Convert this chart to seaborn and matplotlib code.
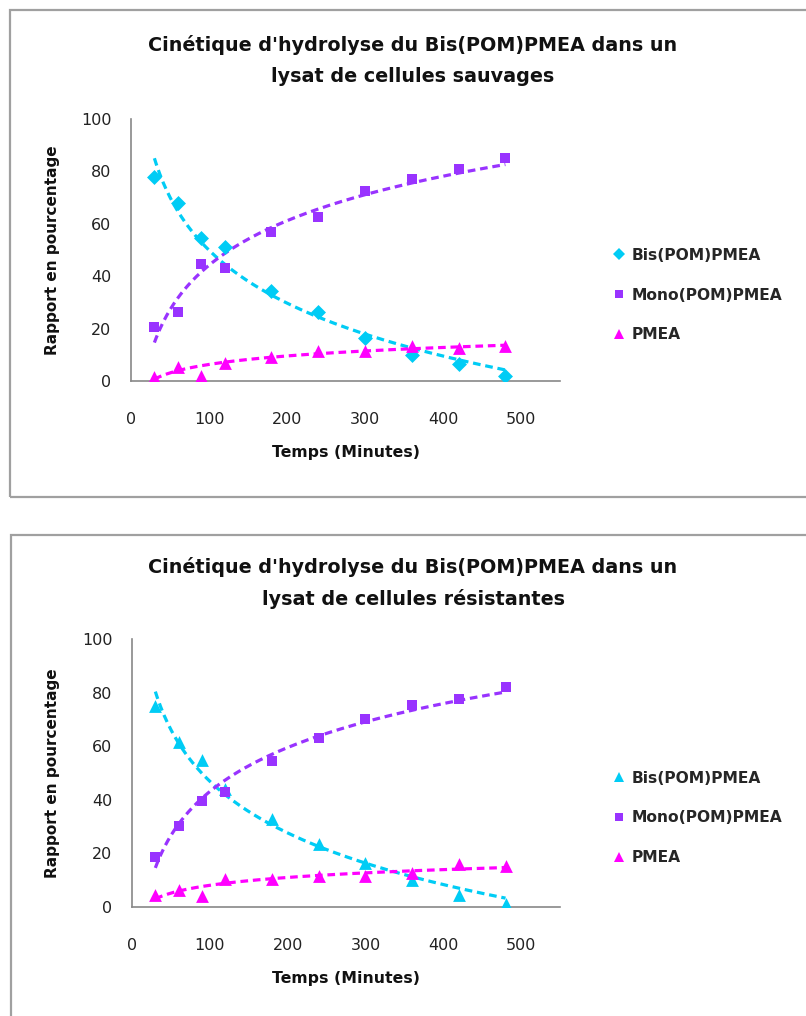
import numpy as np
import pandas as pd
import matplotlib
matplotlib.use("Agg")
import matplotlib.pyplot as plt
import seaborn as sns
from matplotlib.lines import Line2D
from matplotlib.patches import Rectangle

# ---------------- data ----------------
temps = [30, 60, 90, 120, 180, 240, 300, 360, 420, 480]

# Panel 1 : cellules sauvages
bis_sauv = [78, 68, 54.5, 51, 34.5, 26.5, 16.5, 10, 6.5, 2]
mono_sauv = [20.5, 26.5, 44.5, 43, 57, 62.5, 72.5, 77, 81, 85]
pmea_sauv = [1.5, 5.5, 2, 7, 9.3, 11.5, 11.5, 13.3, 12.5, 13.5]

# Panel 2 : cellules résistantes
bis_res = [75, 61.5, 55, 44, 33, 23.5, 16.5, 10.2, 4.6, 1]
mono_res = [18.7, 30.3, 39.4, 43, 54.6, 63, 70, 75.5, 77.7, 82]
pmea_res = [4.6, 6.2, 4, 10.4, 10.4, 11.4, 11.7, 12.7, 16.2, 15.4]

series_names = ["Bis(POM)PMEA", "Mono(POM)PMEA", "PMEA"]
titles = ["Cinétique d'hydrolyse du Bis(POM)PMEA dans un\nlysat de cellules sauvages",
          "Cinétique d'hydrolyse du Bis(POM)PMEA dans un\nlysat de cellules résistantes"]
x_label = "Temps (Minutes)"
y_label = "Rapport en pourcentage"
x_ticks = [0, 100, 200, 300, 400, 500]
y_ticks = [0, 20, 40, 60, 80, 100]

CYAN = "#00CCF5"
PURPLE = "#9933FF"
MAGENTA = "#FF00FF"
colors = [CYAN, PURPLE, MAGENTA]

sns.set_theme(style="white")
plt.rcParams["font.family"] = ["DejaVu Sans"]

W, H = 806, 1016
fig = plt.figure(figsize=(W / 100, H / 100), dpi=100)

def fx(px):
    return px / W

def fy(py):
    return 1 - py / H

# frames around each chart
fig.patches.append(Rectangle((fx(10), fy(497)), fx(850), 487 / H, transform=fig.transFigure,
                             fill=False, edgecolor="#A0A0A0", linewidth=1.6, zorder=0))
fig.patches.append(Rectangle((fx(11), fy(1040)), fx(850), 505 / H, transform=fig.transFigure,
                             fill=False, edgecolor="#A0A0A0", linewidth=1.6, zorder=0))

panels = [
    dict(data=[bis_sauv, mono_sauv, pmea_sauv], markers=["D", "s", "^"],
         ax_box=(131, 119, 560, 381), title_y=(45, 76), legend_y=295),
    dict(data=[bis_res, mono_res, pmea_res], markers=["^", "s", "^"],
         ax_box=(132, 639, 560, 907), title_y=(567, 599), legend_y=818),
]

marker_sizes = {"D": 58, "s": 62, "^": 85}
legend_ms = {"D": 6.0, "s": 6.0, "^": 7.5}
TXT = "#111111"

for i, p in enumerate(panels):
    x0, y0, x1, y1 = p["ax_box"]
    ax = fig.add_axes([fx(x0), fy(y1), (x1 - x0) / W, (y1 - y0) / H])
    for vals, name, col, mk in zip(p["data"], series_names, colors, p["markers"]):
        df = pd.DataFrame({"t": temps, "v": vals})
        # logarithmic trend line fitted from the data
        a, b = np.polyfit(np.log(df["t"]), df["v"], 1)
        tt = np.linspace(min(temps), max(temps), 200)
        trend = pd.DataFrame({"t": tt, "v": a * np.log(tt) + b})
        sns.lineplot(data=trend, x="t", y="v", ax=ax, color=col, linewidth=2.3,
                     linestyle=(0, (2.4, 1.5)), zorder=2)
        sns.scatterplot(data=df, x="t", y="v", ax=ax, color=col, marker=mk,
                        s=marker_sizes[mk], linewidth=0, zorder=3)
    ax.set_xlim(0, 550)
    ax.set_ylim(0, 100)
    ax.set_xticks(x_ticks)
    ax.set_yticks(y_ticks)
    ax.tick_params(axis="x", length=0, pad=22, labelsize=11.5, labelcolor="#222222")
    ax.tick_params(axis="y", length=0, pad=14, labelsize=11.5, labelcolor="#222222")
    for s in ["top", "right"]:
        ax.spines[s].set_visible(False)
    for s in ["left", "bottom"]:
        ax.spines[s].set_color("#888888")
        ax.spines[s].set_linewidth(1.2)
    ax.set_xlabel("")
    ax.set_ylabel("")
    ax.grid(False)
    ax.set_facecolor("none")

    # axis titles
    fig.text(fx((x0 + x1) / 2), fy(y1 + 72), x_label, ha="center", va="center",
             fontsize=11.3, fontweight="bold", color=TXT)
    fig.text(fx(53), fy((y0 + y1) / 2), y_label, ha="center", va="center",
             rotation=90, fontsize=11, fontweight="bold", color=TXT)

    # chart title
    l1, l2 = titles[i].split("\n")
    fig.text(fx(413), fy(p["title_y"][0]), l1, ha="center", va="center",
             fontsize=13.8, fontweight="bold", color=TXT)
    fig.text(fx(413), fy(p["title_y"][1]), l2, ha="center", va="center",
             fontsize=13.8, fontweight="bold", color=TXT)

    handles = [Line2D([], [], linestyle="none", marker=mk, color=col,
                      markersize=legend_ms[mk], markeredgewidth=0)
               for col, mk in zip(colors, p["markers"])]
    fig.legend(handles, series_names, loc="center left",
               bbox_to_anchor=(fx(605), fy(p["legend_y"])), frameon=False,
               prop=dict(size=11.2, weight="bold"), labelspacing=1.6,
               handlelength=0.8, handletextpad=0.4, borderpad=0)

fig.savefig("out.png", dpi=100, facecolor="white")
